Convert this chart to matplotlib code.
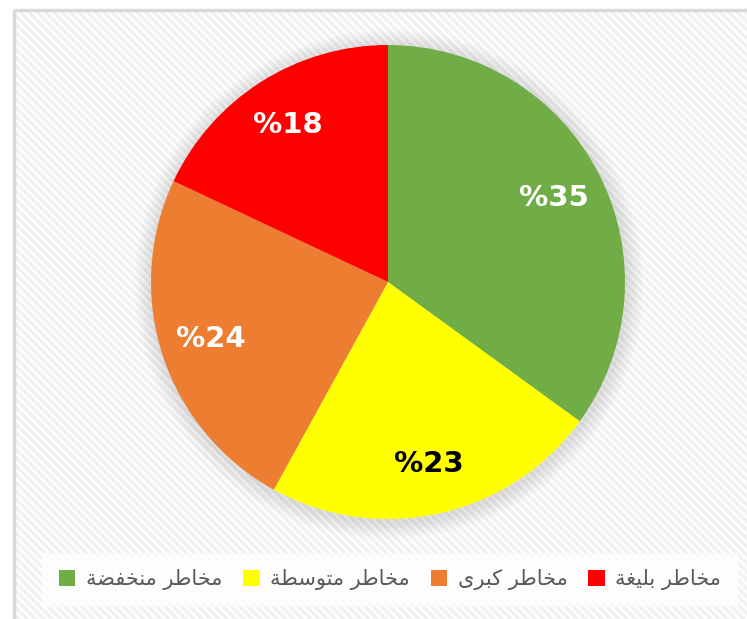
import matplotlib.pyplot as plt
from matplotlib.patches import Rectangle, Circle

plt.rcParams['font.family'] = ['DejaVu Sans']
plt.rcParams['hatch.linewidth'] = 2.5

# data (Arabic labels written as presentation forms in visual order,
# because matplotlib does no Arabic shaping / bidi)
word_risk = '\uFEAE\uFEC3\uFE8E\uFEA8\uFEE3'  # مخاطر
categories = [
    '\uFE94\uFEC0\uFED4\uFEA8\uFEE8\uFEE3 ' + word_risk,  # مخاطر منخفضة
    '\uFE94\uFEC4\uFEB3\uFEEE\uFE98\uFEE3 ' + word_risk,  # مخاطر متوسطة
    '\uFEEF\uFEAE\uFE92\uFEDB ' + word_risk,              # مخاطر كبرى
    '\uFE94\uFED0\uFEF4\uFEE0\uFE91 ' + word_risk,        # مخاطر بليغة
]
values = [35, 23, 24, 18]
colors = ['#70AD47', '#FFFF00', '#ED7D31', '#FF0000']
label_colors = ['white', 'black', 'white', 'white']

W, H = 747, 619
fig = plt.figure(figsize=(W / 100, H / 100), dpi=100)
fig.patch.set_facecolor('white')

# hatched chart area with light grey frame
bg = fig.add_axes([0, 0, 1, 1])
bg.set_xlim(0, W)
bg.set_ylim(H, 0)
bg.axis('off')
bg.add_patch(Rectangle((14, 10), W, H, facecolor='white', edgecolor='#f1f1f1',
                       hatch='\\\\\\\\', linewidth=0))
bg.add_patch(Rectangle((14, 10), W, H, facecolor='none', edgecolor='#d9d9d9',
                       linewidth=2.5))

# pie
cx, cy, r = 388, 282, 237
ax = fig.add_axes([(cx - 1.1 * r) / W, (H - cy - 1.1 * r) / H, 2.2 * r / W, 2.2 * r / H])
# soft shadow: many faint stacked discs
n = 14
for i in range(n):
    k = 1.075 - i * 0.005
    ax.add_patch(Circle((0.005, -0.01), k, color='black', alpha=0.009, lw=0))
wedges, texts = ax.pie(values, colors=colors, startangle=90, counterclock=False,
                       labels=['%' + str(v) for v in values], labeldistance=0.785,
                       wedgeprops=dict(edgecolor='white', linewidth=0))
for t, c in zip(texts, label_colors):
    t.set_color(c)
    t.set_fontsize(21)
    t.set_fontweight('bold')
    t.set_ha('center')
    t.set_va('center')
ax.set_xlim(-1.1, 1.1)
ax.set_ylim(-1.1, 1.1)
ax.set_aspect('equal')

# legend
leg = fig.legend(wedges, categories, loc='center', bbox_to_anchor=(390 / W, 1 - 580 / H),
                 ncol=4, markerfirst=True, frameon=True, fontsize=15,
                 handlelength=0.8, handleheight=0.8, columnspacing=1.0,
                 handletextpad=0.5, borderpad=0.8, fancybox=False)
leg.get_frame().set_facecolor('white')
leg.get_frame().set_alpha(0.85)
leg.get_frame().set_linewidth(0)
for t in leg.get_texts():
    t.set_color('#595959')

fig.savefig('out.png', dpi=100)
